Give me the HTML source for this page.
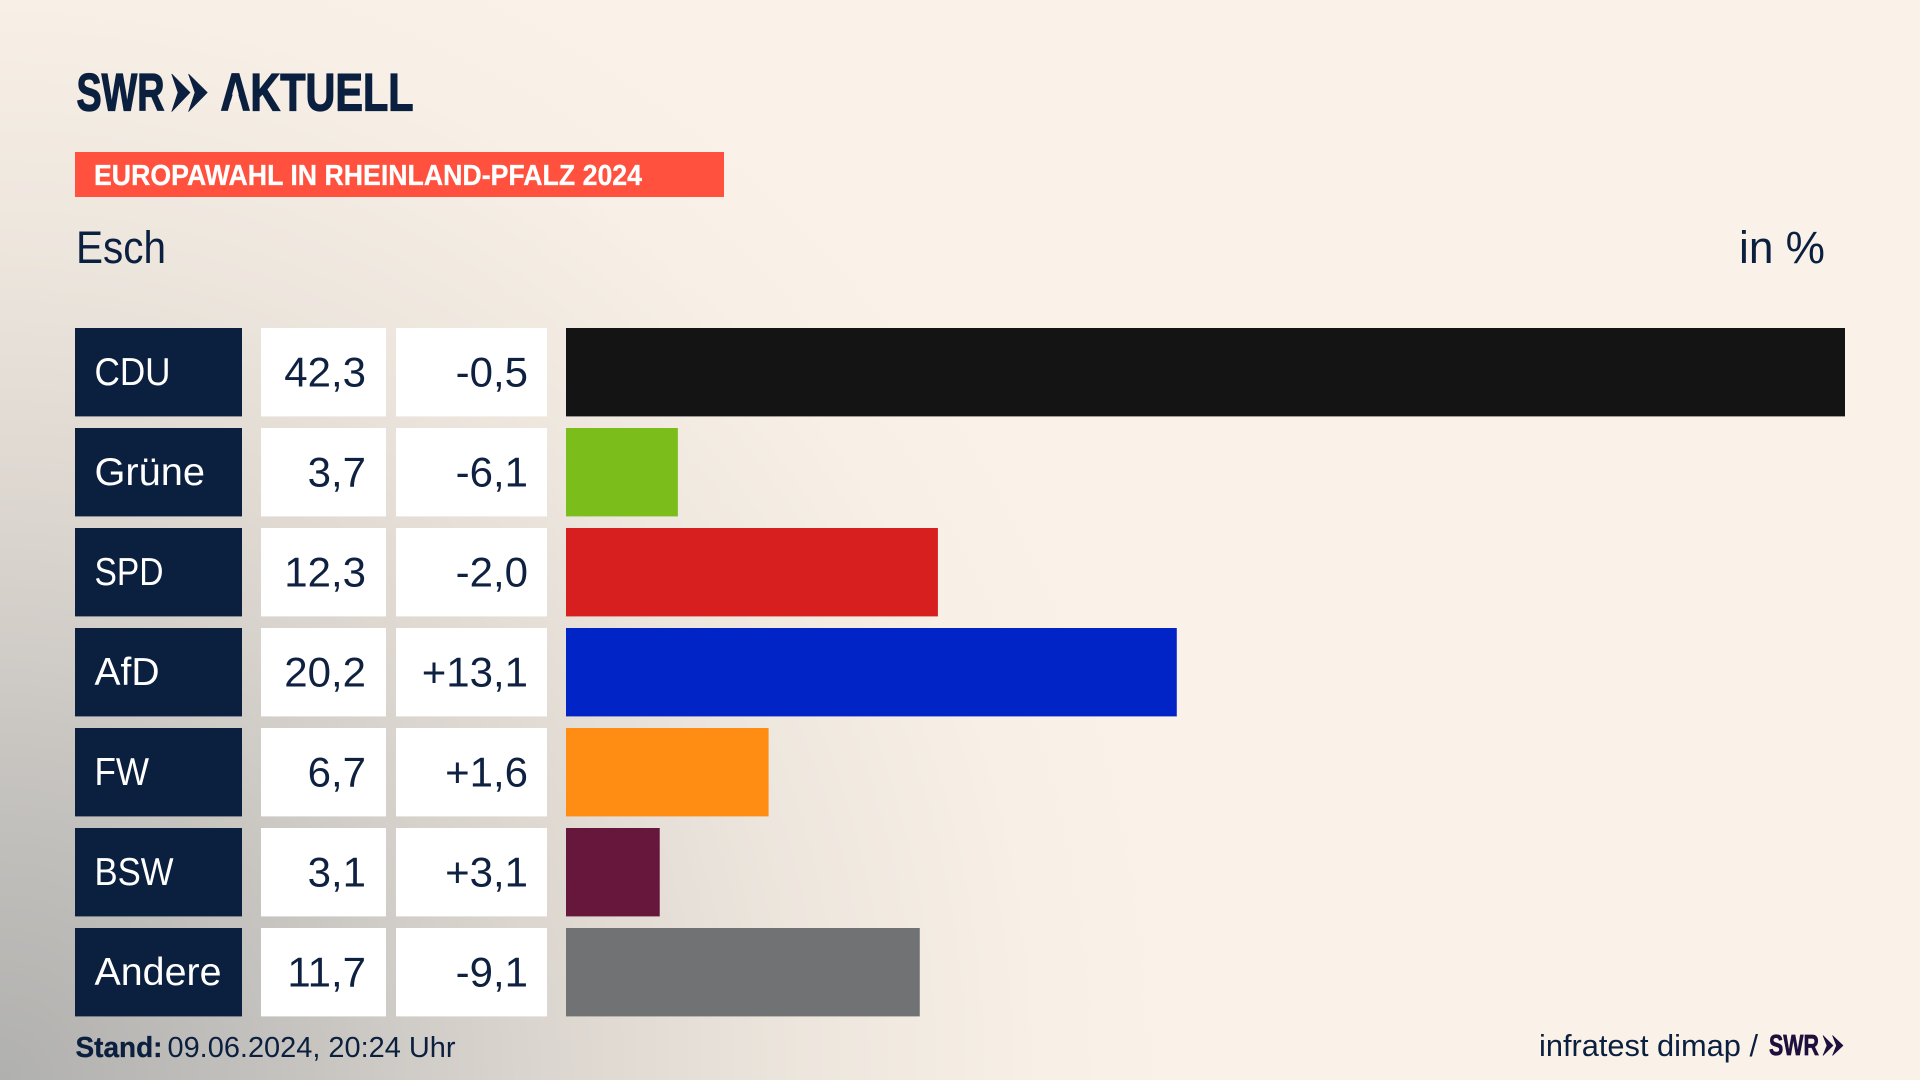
<!DOCTYPE html>
<html lang="de">
<head>
<meta charset="utf-8">
<title>Europawahl in Rheinland-Pfalz 2024 – Esch</title>
<style>
  html, body { margin: 0; padding: 0; width: 1920px; height: 1080px; overflow: hidden; }
  body {
    background-color: #faf2e8;
    background-image:
      radial-gradient(ellipse 1190px 1230px at 0 1080px,
        rgba(176,176,174,1) 0%, rgba(192,190,187,.95) 22%, rgba(213,208,202,.85) 45%,
        rgba(232,225,217,.7) 68%, rgba(245,237,228,.4) 88%, rgba(250,242,232,0) 100%);
    font-family: "Liberation Sans", sans-serif;
  }
  svg { display: block; position: absolute; left: 0; top: 0; }
  text { font-family: "Liberation Sans", sans-serif; }
  .navy { fill: #0b1f3f; }
  .heavy { stroke: #0b1f3f; stroke-width: 1.3px; }
  .label-text { fill: #ffffff; font-size: 39px; transform-box: fill-box; transform-origin: left center; }
  .label-0 { transform: scaleX(.9); }
  .label-1 { transform: scaleX(1.02); }
  .label-2 { transform: scaleX(.86); }
  .label-3 { transform: scaleX(1); }
  .label-4 { transform: scaleX(.9); }
  .label-5 { transform: scaleX(.89); }
  .label-6 { transform: scaleX(1.01); }
  .num-text { fill: #0e2140; font-size: 42px; text-anchor: end; }
  .bar-0 { fill: #141414; }
  .bar-1 { fill: #7bbd1a; }
  .bar-2 { fill: #d71f1f; }
  .bar-3 { fill: #0024c6; }
  .bar-4 { fill: #ff8d14; }
  .bar-5 { fill: #68173c; }
  .bar-6 { fill: #717274; }
</style>
</head>
<body>
<svg id="chart" width="1920" height="1080" viewBox="0 0 1920 1080" xmlns="http://www.w3.org/2000/svg">
  <g>
    <text class="navy heavy" x="76.5" y="110.5" font-size="53" font-weight="700" textLength="88" lengthAdjust="spacingAndGlyphs">SWR</text>
    <path class="navy" stroke="#0b1f3f" stroke-width="0.6" d="M171.7 74L190 92.5L171.7 111.7L178 92.5ZM188.5 74L207.3 92.5L188.5 111.7L195 92.5Z"/>
    <text class="navy heavy" x="220.5" y="110.5" font-size="53" font-weight="700" textLength="193" lengthAdjust="spacingAndGlyphs">AKTUELL</text>
    <polygon points="235.5,85 230.5,102 240.5,102" fill="#f9f1e7"/>
  </g>
  <rect x="75" y="152" width="649" height="45" fill="#ff513d"/>
  <text x="94" y="185" font-size="29" font-weight="700" fill="#ffffff" stroke="#ffffff" stroke-width="0.3" textLength="548" lengthAdjust="spacingAndGlyphs">EUROPAWAHL IN RHEINLAND-PFALZ 2024</text>
  <text class="navy" x="76" y="263" font-size="45" textLength="90" lengthAdjust="spacingAndGlyphs">Esch</text>
  <text class="navy" x="1739" y="263" font-size="45" textLength="86" lengthAdjust="spacingAndGlyphs">in %</text>
  <g id="rows"></g>
  <text class="navy" x="75.5" y="1057" font-size="29" font-weight="700" stroke="#0b1f3f" stroke-width="0.3" textLength="87" lengthAdjust="spacingAndGlyphs">Stand:</text>
  <text class="navy" x="167.5" y="1057" font-size="29" textLength="288" lengthAdjust="spacingAndGlyphs">09.06.2024, 20:24 Uhr</text>
  <text class="navy" x="1539" y="1056" font-size="31" textLength="219" lengthAdjust="spacingAndGlyphs">infratest dimap /</text>
  <text x="1769" y="1055" font-size="29" font-weight="700" fill="#1f0f3d" stroke="#1f0f3d" stroke-width="0.7" textLength="50" lengthAdjust="spacingAndGlyphs">SWR</text>
  <path fill="#1f0f3d" stroke="#1f0f3d" stroke-width="0.6" d="M1823 1035.5L1833 1045.5L1823 1055.5L1827 1045.5ZM1832.5 1035.5L1843 1045.5L1832.5 1055.5L1836.5 1045.5Z"/>
</svg>
<script>
const parties = ["CDU", "Grüne", "SPD", "AfD", "FW", "BSW", "Andere"];
const shares = [42.3, 3.7, 12.3, 20.2, 6.7, 3.1, 11.7];
const changes = [-0.5, -6.1, -2.0, 13.1, 1.6, 3.1, -9.1];

const axisMax = 42.3;
const plotLeft = 566;
const plotWidth = 1279;
const rowTop = 328;
const rowPitch = 100;
const rowHeight = 88.4;
const svgNS = "http://www.w3.org/2000/svg";
const rowsGroup = document.getElementById("rows");

function xScale(v) { return plotWidth * v / axisMax; }
function yScale(i) { return rowTop + i * rowPitch; }
function fmtShare(v) { return v.toFixed(1).replace(".", ","); }
function fmtChange(v) { return (v > 0 ? "+" : "") + v.toFixed(1).replace(".", ","); }

parties.forEach(function (party, i) {
  const y = yScale(i);
  const slug = party.toLowerCase().replace("ü", "ue");

  const labelBox = document.createElementNS(svgNS, "rect");
  labelBox.setAttribute("x", 75);
  labelBox.setAttribute("y", y);
  labelBox.setAttribute("width", 167);
  labelBox.setAttribute("height", rowHeight);
  labelBox.setAttribute("class", "navy");
  
  
  rowsGroup.appendChild(labelBox);

  const labelText = document.createElementNS(svgNS, "text");
  labelText.setAttribute("x", 94.5);
  labelText.setAttribute("y", y + 57);
  labelText.setAttribute("class", "label-text label-" + i);
  
  
  labelText.textContent = party;
  rowsGroup.appendChild(labelText);

  const shareBox = document.createElementNS(svgNS, "rect");
  shareBox.setAttribute("x", 261);
  shareBox.setAttribute("y", y);
  shareBox.setAttribute("width", 125);
  shareBox.setAttribute("height", rowHeight);
  shareBox.setAttribute("fill", "#ffffff");
  
  
  rowsGroup.appendChild(shareBox);

  const shareText = document.createElementNS(svgNS, "text");
  shareText.setAttribute("x", 366);
  shareText.setAttribute("y", y + 58.5);
  shareText.setAttribute("class", "num-text");
  
  
  shareText.textContent = fmtShare(shares[i]);
  rowsGroup.appendChild(shareText);

  const changeBox = document.createElementNS(svgNS, "rect");
  changeBox.setAttribute("x", 396);
  changeBox.setAttribute("y", y);
  changeBox.setAttribute("width", 151);
  changeBox.setAttribute("height", rowHeight);
  changeBox.setAttribute("fill", "#ffffff");
  
  
  rowsGroup.appendChild(changeBox);

  const changeText = document.createElementNS(svgNS, "text");
  changeText.setAttribute("x", 528);
  changeText.setAttribute("y", y + 58.5);
  changeText.setAttribute("class", "num-text");
  
  
  changeText.textContent = fmtChange(changes[i]);
  rowsGroup.appendChild(changeText);

  const bar = document.createElementNS(svgNS, "rect");
  bar.setAttribute("x", plotLeft);
  bar.setAttribute("y", y);
  bar.setAttribute("width", xScale(shares[i]));
  bar.setAttribute("height", rowHeight);
  bar.setAttribute("class", "bar-" + i);
  
  
  rowsGroup.appendChild(bar);
});
</script>
</body>
</html>
